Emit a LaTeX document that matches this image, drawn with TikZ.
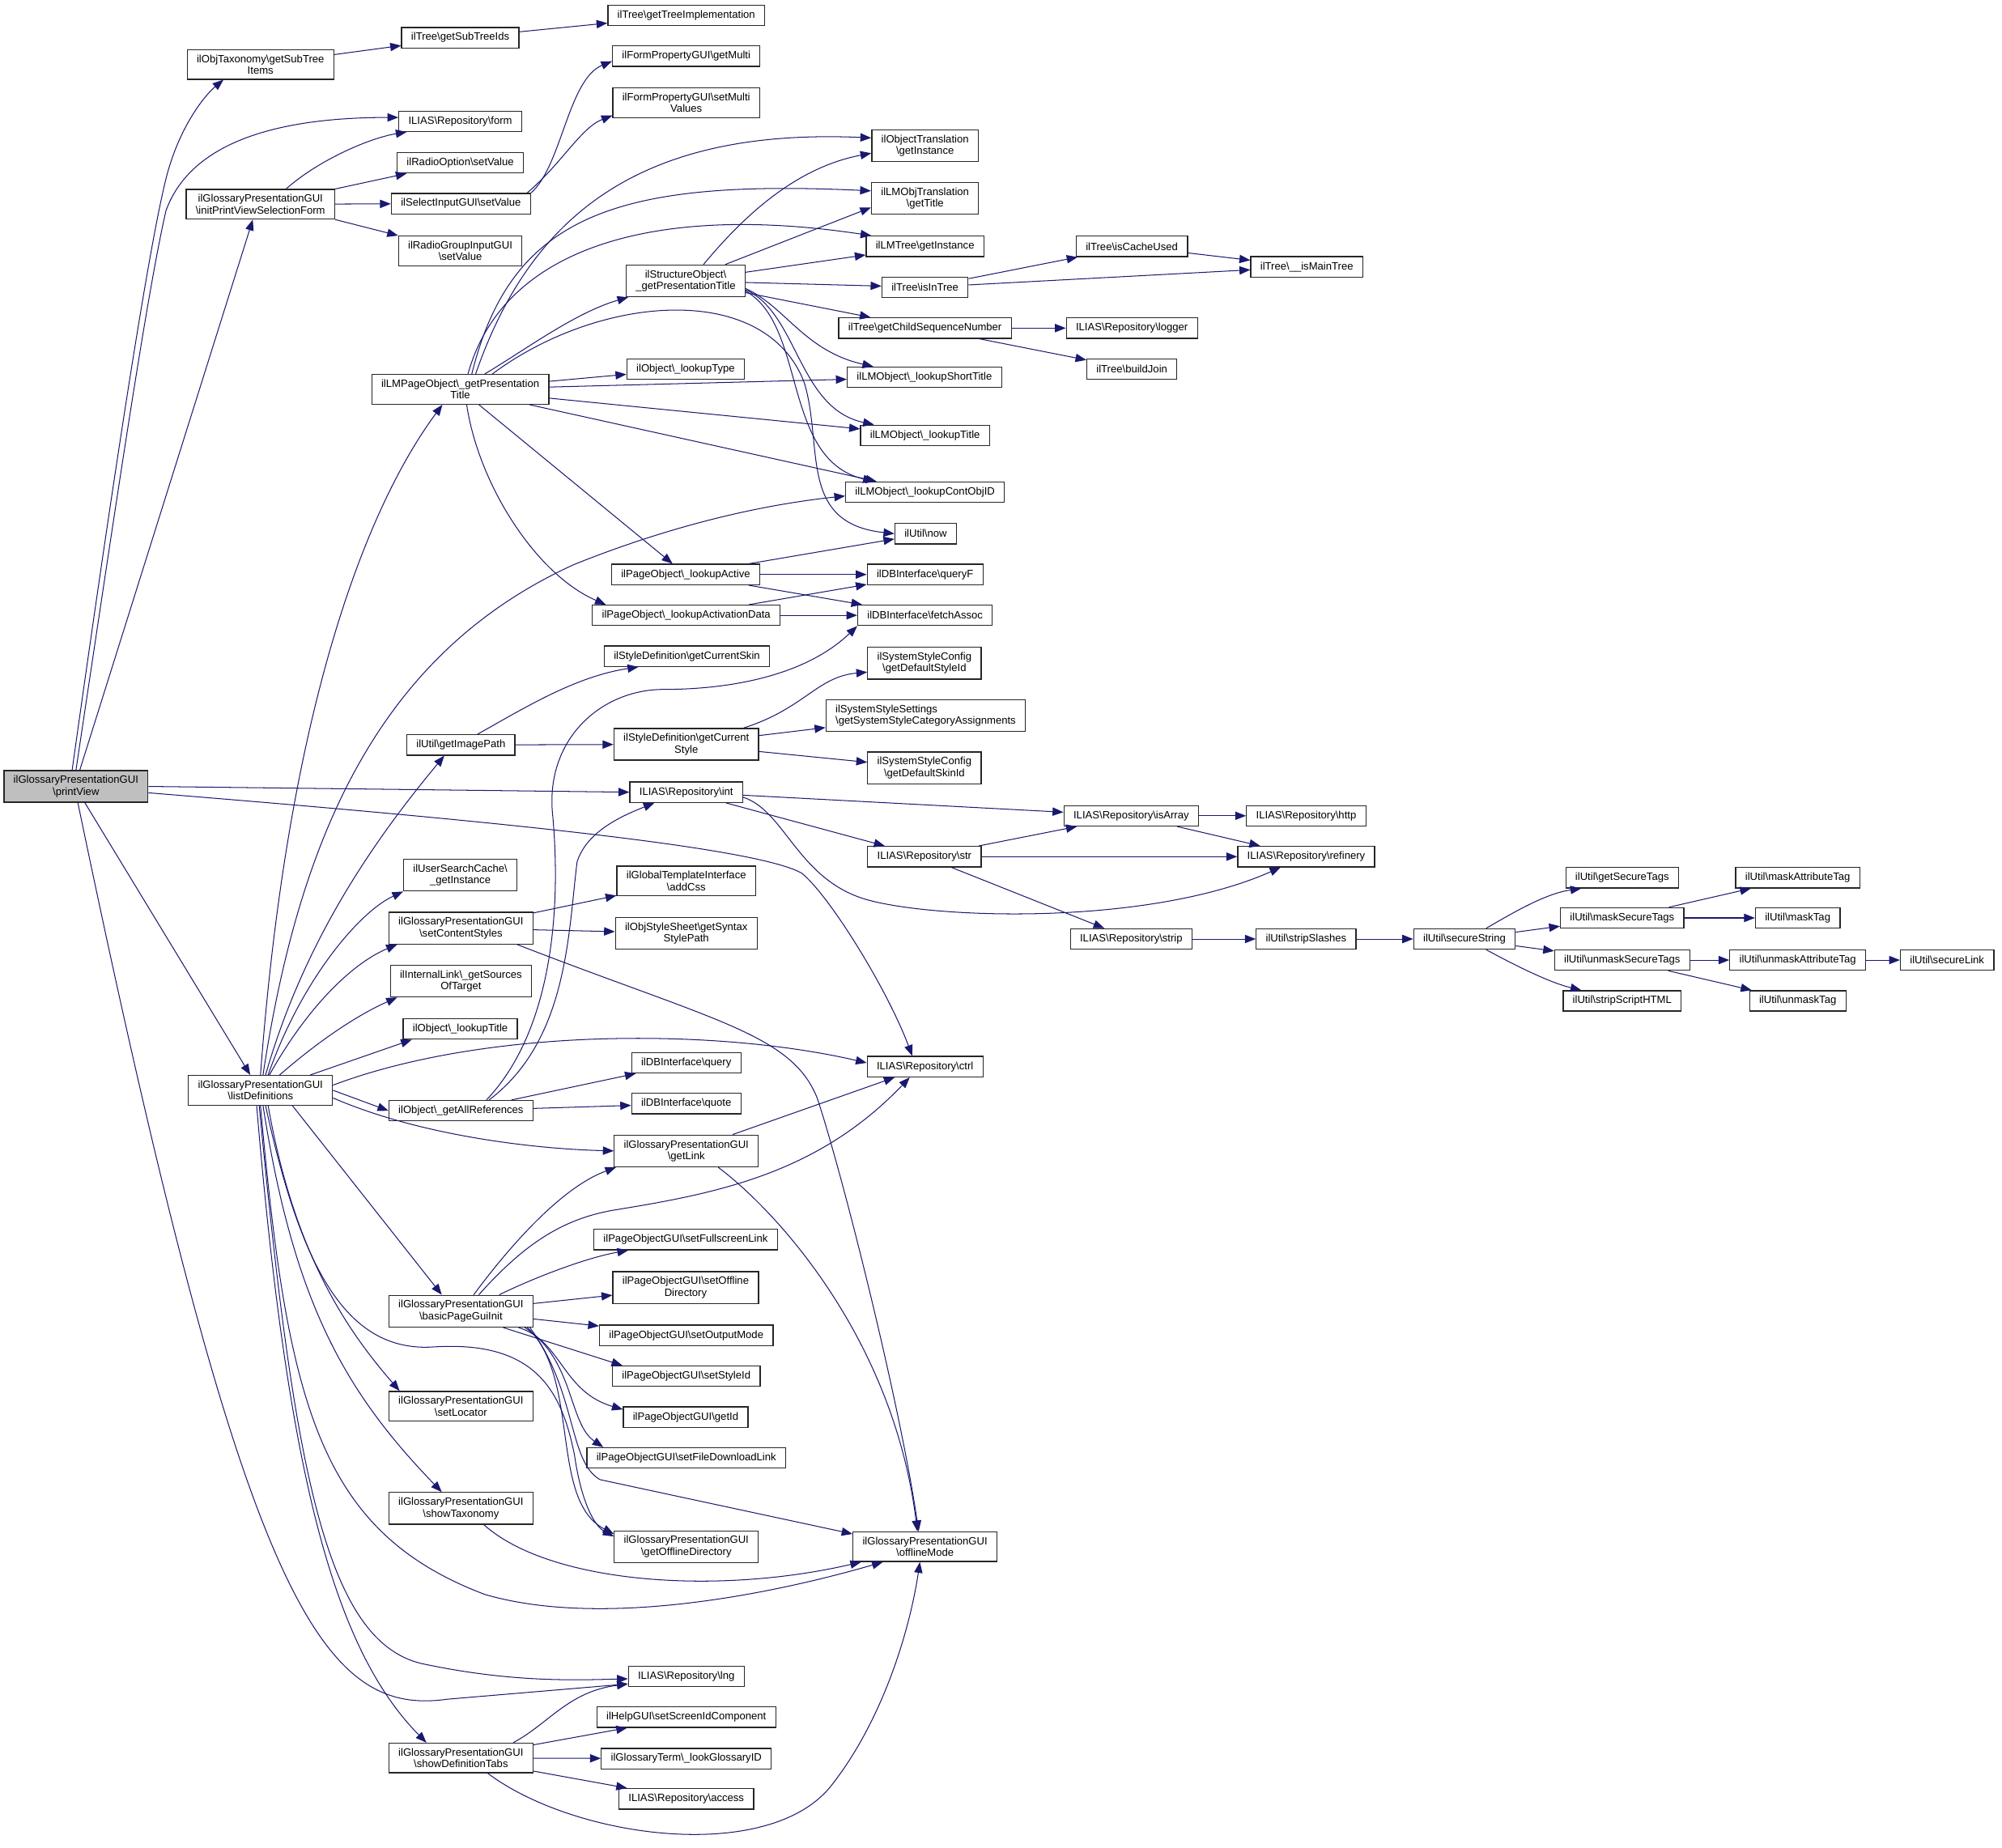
\documentclass[tikz,border=0pt]{standalone}
\usepackage{fontspec}
\newfontfamily\dotfont{Liberation Sans}
\usetikzlibrary{arrows.meta}
\definecolor{callblue}{HTML}{191970}
\definecolor{curgray}{HTML}{BFBFBF}
\newcommand{\bs}{\textbackslash}
\tikzset{
  fnbox/.style={draw=black!85, line width=0.8pt, fill=white, font=\dotfont\fontsize{8.3pt}{9.1pt}\selectfont,
    align=center, inner xsep=7.5pt, inner ysep=4pt, minimum height=16pt},
  curbox/.style={fnbox, fill=curgray},
  callarrow/.style={draw=callblue, line width=0.65pt, -{Triangle[length=8.5pt,width=6.5pt]}},
}
\begin{document}
\begin{tikzpicture}[x=1pt,y=-1pt]
\fill[white] (0,0) rectangle (1568,1447);
\useasboundingbox (0,0) rectangle (1568,1447);

\node[curbox] (pv) at (59.5,616) {ilGlossaryPresentationGUI\\\bs printView};

\node[fnbox] (otx) at (204,50.5) {ilObjTaxonomy\bs getSubTree\\Items};
\node[fnbox] (ipv) at (204,160) {ilGlossaryPresentationGUI\\\bs initPrintViewSelectionForm};
\node[fnbox] (ld) at (204,854) {ilGlossaryPresentationGUI\\\bs listDefinitions};

\node[fnbox] (subtree) at (360.5,29.5) {ilTree\bs getSubTreeIds};
\node[fnbox] (form) at (360.5,95) {ILIAS\bs Repository\bs form};
\node[fnbox] (radioopt) at (360.5,127.5) {ilRadioOption\bs setValue};
\node[fnbox] (selinput) at (361,159.5) {ilSelectInputGUI\bs setValue};
\node[fnbox] (radiogrp) at (360.5,196.5) {ilRadioGroupInputGUI\\\bs setValue};
\node[fnbox] (lmp) at (360.5,305) {ilLMPageObject\bs\_getPresentation\\Title};
\node[fnbox] (imgpath) at (361,583.5) {ilUtil\bs getImagePath};
\node[fnbox] (usercache) at (360.5,685.5) {ilUserSearchCache\bs\\\_getInstance};
\node[fnbox] (contstyles) at (361,727) {ilGlossaryPresentationGUI\\\bs setContentStyles};
\node[fnbox] (sources) at (361,768.5) {ilInternalLink\bs\_getSources\\OfTarget};
\node[fnbox] (objtitle) at (360.5,806) {ilObject\bs\_lookupTitle};
\node[fnbox] (allrefs) at (361,870) {ilObject\bs\_getAllReferences};
\node[fnbox] (basicinit) at (361,1027) {ilGlossaryPresentationGUI\\\bs basicPageGuiInit};
\node[fnbox] (locator) at (361,1101.5) {ilGlossaryPresentationGUI\\\bs setLocator};
\node[fnbox] (showtax) at (361,1181.5) {ilGlossaryPresentationGUI\\\bs showTaxonomy};
\node[fnbox] (deftabs) at (361,1377) {ilGlossaryPresentationGUI\\\bs showDefinitionTabs};

\node[fnbox] (treeimpl) at (537.5,12) {ilTree\bs getTreeImplementation};
\node[fnbox] (getmulti) at (537.5,44) {ilFormPropertyGUI\bs getMulti};
\node[fnbox] (setmulti) at (537.5,80.5) {ilFormPropertyGUI\bs setMulti\\Values};
\node[fnbox] (structobj) at (537,220) {ilStructureObject\bs\\\_getPresentationTitle};
\node[fnbox] (lookuptype) at (537,289) {ilObject\bs\_lookupType};
\node[fnbox] (lookupactive) at (537,450) {ilPageObject\bs\_lookupActive};
\node[fnbox] (activationdata) at (537.5,482) {ilPageObject\bs\_lookupActivationData};
\node[fnbox] (curskin) at (538,514) {ilStyleDefinition\bs getCurrentSkin};
\node[fnbox] (curstyle) at (537.5,583) {ilStyleDefinition\bs getCurrent\\Style};
\node[fnbox] (int) at (537.5,620.5) {ILIAS\bs Repository\bs int};
\node[fnbox] (addcss) at (537.5,690) {ilGlobalTemplateInterface\\\bs addCss};
\node[fnbox] (syntaxpath) at (537.5,731) {ilObjStyleSheet\bs getSyntax\\StylePath};
\node[fnbox] (query) at (537.5,832.5) {ilDBInterface\bs query};
\node[fnbox] (quote) at (537.5,864.5) {ilDBInterface\bs quote};
\node[fnbox] (getlink) at (537.5,901.5) {ilGlossaryPresentationGUI\\\bs getLink};
\node[fnbox] (fullscreen) at (537,971) {ilPageObjectGUI\bs setFullscreenLink};
\node[fnbox] (offlinedir) at (537,1008.5) {ilPageObjectGUI\bs setOffline\\Directory};
\node[fnbox] (outputmode) at (537.5,1046) {ilPageObjectGUI\bs setOutputMode};
\node[fnbox] (styleid) at (537.5,1078) {ilPageObjectGUI\bs setStyleId};
\node[fnbox] (getid) at (537,1110) {ilPageObjectGUI\bs getId};
\node[fnbox] (downloadlink) at (537.5,1142) {ilPageObjectGUI\bs setFileDownloadLink};
\node[fnbox] (getofflinedir) at (537.5,1211.5) {ilGlossaryPresentationGUI\\\bs getOfflineDirectory};
\node[fnbox] (lng) at (537.5,1313) {ILIAS\bs Repository\bs lng};
\node[fnbox] (screenid) at (537.5,1345) {ilHelpGUI\bs setScreenIdComponent};
\node[fnbox] (glossaryid) at (537.5,1377.5) {ilGlossaryTerm\bs\_lookGlossaryID};
\node[fnbox] (access) at (537.5,1409) {ILIAS\bs Repository\bs access};

\node[fnbox] (objtrans) at (724.5,114) {ilObjectTranslation\\\bs getInstance};
\node[fnbox] (lmobjtrans) at (724.5,155.5) {ilLMObjTranslation\\\bs getTitle};
\node[fnbox] (lmtree) at (724.5,193) {ilLMTree\bs getInstance};
\node[fnbox] (isintree) at (724.5,225) {ilTree\bs isInTree};
\node[fnbox] (childseq) at (724.5,257) {ilTree\bs getChildSequenceNumber};
\node[fnbox] (shorttitle) at (724,295.5) {ilLMObject\bs\_lookupShortTitle};
\node[fnbox] (lmtitle) at (724.5,341) {ilLMObject\bs\_lookupTitle};
\node[fnbox] (contobjid) at (724.5,385.5) {ilLMObject\bs\_lookupContObjID};
\node[fnbox] (now) at (725,418) {ilUtil\bs now};
\node[fnbox] (queryf) at (724.5,450) {ilDBInterface\bs queryF};
\node[fnbox] (fetchassoc) at (724.5,482) {ilDBInterface\bs fetchAssoc};
\node[fnbox] (defstyleid) at (724,519.5) {ilSystemStyleConfig\\\bs getDefaultStyleId};
\node[fnbox, align=left] (catassign) at (725,560.5) {ilSystemStyleSettings\\\bs getSystemStyleCategoryAssignments};
\node[fnbox] (defskinid) at (724,601.5) {ilSystemStyleConfig\\\bs getDefaultSkinId};
\node[fnbox] (str) at (724,671) {ILIAS\bs Repository\bs str};
\node[fnbox] (ctrl) at (724.5,835.5) {ILIAS\bs Repository\bs ctrl};
\node[fnbox] (offlinemode) at (724.5,1211.5) {ilGlossaryPresentationGUI\\\bs offlineMode};

\node[fnbox] (iscacheused) at (886.5,193) {ilTree\bs isCacheUsed};
\node[fnbox] (logger) at (886.5,257) {ILIAS\bs Repository\bs logger};
\node[fnbox] (buildjoin) at (886.5,289) {ilTree\bs buildJoin};
\node[fnbox] (isarray) at (886,639) {ILIAS\bs Repository\bs isArray};
\node[fnbox] (strip) at (886,735.5) {ILIAS\bs Repository\bs strip};
\node[fnbox] (ismaintree) at (1023.5,209) {ilTree\bs\_\_isMainTree};
\node[fnbox] (http) at (1023,639) {ILIAS\bs Repository\bs http};
\node[fnbox] (refinery) at (1023,671) {ILIAS\bs Repository\bs refinery};
\node[fnbox] (stripslashes) at (1023,735.5) {ilUtil\bs stripSlashes};
\node[fnbox] (securestring) at (1147,735.5) {ilUtil\bs secureString};
\node[fnbox] (securetags) at (1270.5,687.5) {ilUtil\bs getSecureTags};
\node[fnbox] (masksecure) at (1270.5,719) {ilUtil\bs maskSecureTags};
\node[fnbox] (unmasksecure) at (1270.5,752) {ilUtil\bs unmaskSecureTags};
\node[fnbox] (stripscript) at (1270.5,784) {ilUtil\bs stripScriptHTML};
\node[fnbox] (maskattr) at (1408,687.5) {ilUtil\bs maskAttributeTag};
\node[fnbox] (masktag) at (1408,719) {ilUtil\bs maskTag};
\node[fnbox] (unmaskattr) at (1408,752) {ilUtil\bs unmaskAttributeTag};
\node[fnbox] (unmasktag) at (1408,784) {ilUtil\bs unmaskTag};
\node[fnbox] (securelink) at (1525,752) {ilUtil\bs secureLink};

% printView
\draw[callarrow] ([xshift=-3pt]pv.north) .. controls (85,400) and (115,200) .. (130,140) .. controls (140,100) and (160,75) .. ([xshift=-29pt]otx.south);
\draw[callarrow] (pv.north) .. controls (90,400) and (115,230) .. (130,165) .. controls (150,110) and (220,92) .. ([yshift=3pt]form.west);
\draw[callarrow] ([xshift=3pt]pv.north) -- ([xshift=-6pt]ipv.south);
\draw[callarrow] ([xshift=7pt]pv.south) -- ([xshift=-8pt]ld.north);
\draw[callarrow] (pv.east) -- (int.west);
\draw[callarrow] ([yshift=-5pt]pv.east) .. controls (350,640) and (590,662) .. (628,684) .. controls (650,702) and (695,775) .. ([xshift=-10pt]ctrl.north);
\draw[callarrow] ([xshift=1.5pt]pv.south) .. controls (190,1250) and (250,1345) .. (350,1331) -- ([yshift=-6pt]lng.west);

% initPrintViewSelectionForm
\draw[callarrow] ([xshift=20pt]ipv.north) .. controls (250,125) and (290,108) .. ([xshift=-42pt]form.south);
\draw[callarrow] (ipv.north east) -- ([xshift=-42pt]radioopt.south);
\draw[callarrow] (ipv) -- (selinput);
\draw[callarrow] (ipv.south east) -- (radiogrp.north west);
\draw[callarrow] (otx) -- (subtree);
\draw[callarrow] (subtree) -- (treeimpl);
\draw[callarrow] (selinput.north east) .. controls (440,130) and (445,62) .. ([yshift=-4pt]getmulti.west);
\draw[callarrow] ([xshift=-3pt]selinput.north east) .. controls (440,128) and (455,100) .. ([yshift=-10pt]setmulti.west);

% _getPresentationTitle
\draw[callarrow] ([xshift=12pt]lmp.north) .. controls (415,170) and (500,100) .. ([yshift=6pt]objtrans.west);
\draw[callarrow] ([xshift=9pt]lmp.north) .. controls (400,170) and (480,140) .. ([yshift=6pt]lmobjtrans.west);
\draw[callarrow] ([xshift=6pt]lmp.north) .. controls (395,190) and (520,160) .. ([xshift=-42pt]lmtree.north);
\draw[callarrow] ([xshift=19pt]lmp.north) .. controls (410,275) and (450,245) .. ([xshift=-45pt]structobj.south);
\draw[callarrow] ([xshift=25pt]lmp.north) .. controls (470,230) and (600,220) .. (630,300) .. controls (645,350) and (625,410) .. (now.west);
\draw[callarrow] (lmp) -- (lookuptype);
\draw[callarrow] (lmp) -- (shorttitle);
\draw[callarrow] (lmp) -- (lmtitle);
\draw[callarrow] (lmp) -- (contobjid);
\draw[callarrow] (lmp) -- (lookupactive);
\draw[callarrow] ([xshift=5pt]lmp.south) .. controls (375,380) and (420,450) .. ([xshift=-63pt]activationdata.north);

\draw[callarrow] ([xshift=14pt]structobj.north) .. controls (590,160) and (630,130) .. ([yshift=-6pt]objtrans.west);
\draw[callarrow] ([xshift=31pt]structobj.north) -- ([yshift=-7pt]lmobjtrans.west);
\draw[callarrow] (structobj) -- (lmtree);
\draw[callarrow] (structobj) -- (isintree);
\draw[callarrow] (structobj) -- (childseq);
\draw[callarrow] ([yshift=-6pt]structobj.east) .. controls (615,240) and (630,275) .. ([xshift=-40pt]shorttitle.north);
\draw[callarrow] ([yshift=-7pt]structobj.east) .. controls (625,245) and (625,320) .. ([xshift=-40pt]lmtitle.north);
\draw[callarrow] ([yshift=-8pt]structobj.east) .. controls (632,255) and (612,360) .. ([xshift=-40pt]contobjid.north);

\draw[callarrow] (isintree) -- (iscacheused);
\draw[callarrow] (isintree) -- (ismaintree);
\draw[callarrow] (iscacheused) -- (ismaintree);
\draw[callarrow] (childseq) -- (logger);
\draw[callarrow] (childseq) -- (buildjoin);

\draw[callarrow] (lookupactive) -- (now);
\draw[callarrow] (lookupactive) -- (queryf);
\draw[callarrow] (lookupactive) -- (fetchassoc);
\draw[callarrow] (activationdata) -- (queryf);
\draw[callarrow] (activationdata) -- (fetchassoc);

% listDefinitions
\draw[callarrow] (ld.north) .. controls (225,560) and (285,400) .. ([xshift=-14pt]lmp.south);
\draw[callarrow] ([xshift=2pt]ld.north) .. controls (235,650) and (300,510) .. (450,442) .. controls (530,410) and (600,395) .. ([yshift=-3pt]contobjid.west);
\draw[callarrow] ([xshift=4pt]ld.north) .. controls (240,730) and (300,650) .. ([xshift=-13pt]imgpath.south);
\draw[callarrow] ([xshift=6pt]ld.north) .. controls (235,770) and (280,715) .. (usercache.south west);
\draw[callarrow] ([xshift=7pt]ld.north) .. controls (240,790) and (275,755) .. ([xshift=-50pt]contstyles.south);
\draw[callarrow] ([xshift=15pt]ld.north) .. controls (250,815) and (280,795) .. ([xshift=-50pt]sources.south);
\draw[callarrow] ([xshift=39pt]ld.north) -- ([xshift=-38pt]objtitle.south);
\draw[callarrow] ([yshift=4pt]ld.east) .. controls (380,805) and (560,805) .. ([yshift=3pt]ctrl.west);
\draw[callarrow] (ld.east) -- (allrefs.west);
\draw[callarrow] ([yshift=-6pt]ld.east) .. controls (330,890) and (420,900) .. (getlink.west);
\draw[callarrow] ([xshift=25pt]ld.south) -- ([xshift=-15pt]basicinit.north);
\draw[callarrow] ([xshift=6pt]ld.south) .. controls (230,980) and (270,1040) .. ([xshift=-48pt]locator.north);
\draw[callarrow] ([xshift=4pt]ld.south) .. controls (235,990) and (270,1060) .. (340,1055) .. controls (420,1050) and (440,1090) .. (450,1140) .. controls (455,1175) and (465,1195) .. ([yshift=8pt]getofflinedir.west);
\draw[callarrow] ([xshift=2pt]ld.south) .. controls (230,1020) and (270,1090) .. ([xshift=-15pt]showtax.north);
\draw[callarrow] (ld.south) .. controls (225,1100) and (250,1200) .. (380,1249) .. controls (470,1275) and (600,1250) .. ([xshift=-33pt]offlinemode.south);
\draw[callarrow] ([xshift=-1pt]ld.south) .. controls (230,1150) and (255,1285) .. (330,1303) .. controls (400,1318) and (450,1316) .. ([yshift=-2pt]lng.west);
\draw[callarrow] ([xshift=-3pt]ld.south) .. controls (225,1150) and (260,1290) .. ([xshift=-27pt]deftabs.north);

% _getAllReferences
\draw[callarrow] ([xshift=20pt]allrefs.north) .. controls (430,810) and (440,720) .. (433,640) .. controls (426,580) and (470,540) .. (520,540) .. controls (570,540) and (630,530) .. (fetchassoc.south west);
\draw[callarrow] ([xshift=22pt]allrefs.north) .. controls (445,815) and (445,730) .. (452,675) .. controls (460,650) and (490,638) .. ([xshift=-25pt]int.south);
\draw[callarrow] (allrefs) -- (query);
\draw[callarrow] (allrefs) -- (quote);

% styles
\draw[callarrow] ([xshift=13pt]imgpath.north) .. controls (410,555) and (450,530) .. ([xshift=-38pt]curskin.south);
\draw[callarrow] (imgpath) -- (curstyle);
\draw[callarrow] ([xshift=45pt]curstyle.north) .. controls (630,555) and (640,530) .. ([yshift=-7pt]defstyleid.west);
\draw[callarrow] (curstyle) -- (catassign);
\draw[callarrow] (curstyle) -- (defskinid);

% repository, strings
\draw[callarrow] (int) -- (isarray);
\draw[callarrow] (int) -- (str);
\draw[callarrow] ([yshift=-4pt]int.east) .. controls (615,635) and (625,690) .. (680,705) .. controls (735,720) and (900,725) .. ([xshift=-20pt]refinery.south);
\draw[callarrow] (str) -- (isarray);
\draw[callarrow] (str) -- (refinery);
\draw[callarrow] (str) -- (strip);
\draw[callarrow] (isarray) -- (http);
\draw[callarrow] (isarray) -- (refinery);
\draw[callarrow] (strip) -- (stripslashes);
\draw[callarrow] (stripslashes) -- (securestring);
\draw[callarrow] ([xshift=17pt]securestring.north) .. controls (1185,715) and (1210,700) .. ([xshift=-32pt]securetags.south);
\draw[callarrow] (securestring) -- (masksecure);
\draw[callarrow] (securestring) -- (unmasksecure);
\draw[callarrow] ([xshift=17pt]securestring.south) .. controls (1190,758) and (1215,770) .. ([xshift=-32pt]stripscript.north);
\draw[callarrow] (masksecure) -- (maskattr);
\draw[callarrow] (masksecure) -- (masktag);
\draw[callarrow] (unmasksecure) -- (unmaskattr);
\draw[callarrow] (unmasksecure) -- (unmasktag);
\draw[callarrow] (unmaskattr) -- (securelink);

% content styles, link
\draw[callarrow] (contstyles) -- (addcss);
\draw[callarrow] (contstyles) -- (syntaxpath);
\draw[callarrow] ([xshift=44pt]contstyles.south) .. controls (560,800) and (620,810) .. (640,860) .. controls (660,920) and (705,1100) .. ([xshift=-5pt]offlinemode.north);
\draw[callarrow] (getlink) -- (ctrl);
\draw[callarrow] ([xshift=25pt]getlink.south) .. controls (610,950) and (700,1050) .. ([xshift=-6pt]offlinemode.north);

% basicPageGuiInit
\draw[callarrow] ([xshift=10pt]basicinit.north) .. controls (400,975) and (440,930) .. ([xshift=-55pt]getlink.south);
\draw[callarrow] ([xshift=14pt]basicinit.north) .. controls (410,975) and (440,955) .. (480,948) .. controls (560,935) and (640,920) .. ([xshift=-12pt]ctrl.south);
\draw[callarrow] ([xshift=30pt]basicinit.north) .. controls (420,1000) and (460,985) .. ([xshift=-45pt]fullscreen.south);
\draw[callarrow] (basicinit) -- (offlinedir);
\draw[callarrow] (basicinit) -- (outputmode);
\draw[callarrow] ([xshift=33pt]basicinit.south) -- ([xshift=-50pt]styleid.north);
\draw[callarrow] ([xshift=45pt]basicinit.south) .. controls (440,1050) and (440,1090) .. ([yshift=6pt]getid.west);
\draw[callarrow] ([xshift=50pt]basicinit.south) .. controls (450,1065) and (445,1115) .. ([xshift=-65pt]downloadlink.north);
\draw[callarrow] ([xshift=52pt]basicinit.south) .. controls (455,1080) and (430,1175) .. ([yshift=10pt]getofflinedir.west);
\draw[callarrow] ([xshift=54pt]basicinit.south) .. controls (452,1090) and (445,1145) .. (470,1159) -- ([yshift=10pt]offlinemode.west);

% showTaxonomy, showDefinitionTabs
\draw[callarrow] ([xshift=18pt]showtax.south) .. controls (430,1240) and (560,1250) .. ([xshift=-50pt]offlinemode.south);
\draw[callarrow] ([xshift=41pt]deftabs.north) .. controls (430,1350) and (445,1325) .. ([yshift=-6pt]lng.west);
\draw[callarrow] (deftabs) -- (screenid);
\draw[callarrow] (deftabs) -- (glossaryid);
\draw[callarrow] (deftabs) -- (access);
\draw[callarrow] ([xshift=21pt]deftabs.south) .. controls (450,1440) and (600,1460) .. (650,1400) .. controls (690,1350) and (712,1280) .. ([xshift=-4pt]offlinemode.south);
\end{tikzpicture}
\end{document}
